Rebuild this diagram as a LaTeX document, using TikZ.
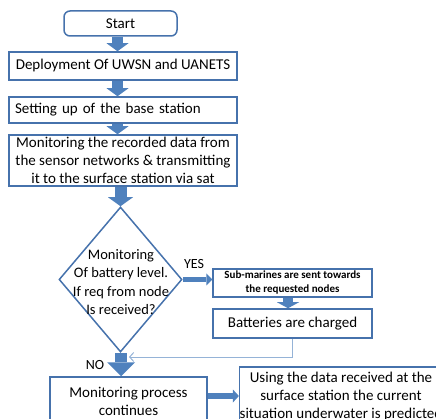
\documentclass[tikz,border=0pt]{standalone}
\usepackage{fontspec}
\setmainfont{Carlito}
\usetikzlibrary{shapes.geometric,arrows.meta}
\definecolor{boxblue}{RGB}{70,114,172}
\definecolor{arrblue}{RGB}{79,129,189}
\definecolor{lineblue}{RGB}{149,179,215}
\tikzset{
  flowbox/.style={draw=boxblue, line width=1.5pt, inner sep=2pt, align=center,
    font=\fontsize{15}{18}\selectfont},
  fatarrow/.style n args={3}{draw=arrblue, line width=#1,
    -{Triangle[width=#2,length=#3,line width=0pt,fill=arrblue]}},
}
\begin{document}
\begin{tikzpicture}[x=1pt,y=-1pt]
  \useasboundingbox (0,0) rectangle (436,419);
  \clip (0,0) rectangle (436,419);

  % left column
  \node[flowbox, rounded corners=6pt, minimum width=113pt, minimum height=25pt] (start) at (120.5,23.5) {Start};
  \node[flowbox, minimum width=228pt, minimum height=28pt] (deploy) at (123,66) {Deployment Of UWSN and UANETS};
  \node[flowbox, text width=216pt, inner xsep=6pt, align=left, minimum height=26pt] (setup) at (123,110) {Setting up of the base station};
  \node[flowbox, minimum width=228pt, minimum height=51pt, inner sep=0pt] (monit) at (123,160.5)
    {Monitoring the recorded data from\\the sensor networks \& transmitting\\it to the surface station via sat};
  \node[draw=boxblue, line width=1.5pt, diamond, minimum width=123pt, minimum height=145pt, inner sep=0pt] (dia) at (120.5,279.5) {};
  \node[align=center, font=\fontsize{14.5}{18.3}\selectfont] (diatext) at (121,282)
    {Monitoring\\Of battery level.\\If req from node\\Is received?};
  \node[flowbox, minimum width=157pt, minimum height=48pt] (proc) at (128.5,401)
    {Monitoring process\\continues};

  % right column
  \node[flowbox, minimum width=159pt, minimum height=28pt, inner sep=0pt,
    font=\fontsize{11}{14}\selectfont\bfseries] (sub) at (292.5,283)
    {Sub-marines are sent towards\\the requested nodes};
  \node[flowbox, minimum width=159pt, minimum height=29pt] (batt) at (292.5,323.5) {Batteries are charged};
  \node[flowbox, minimum width=200pt, minimum height=58pt, inner sep=0pt] (using) at (341,396)
    {Using the data received at the\\surface station the current\\situation underwater is predicted};

  \node[font=\fontsize{14}{16}\selectfont] (yes) at (194,264) {YES};
  \node[font=\fontsize{14}{16}\selectfont] (no) at (95,365) {NO};
  \coordinate (merge) at (129,357);

  % arrows
  \draw[fatarrow={11pt}{22pt}{8pt}] (start.south -| 117.5,0) -- (deploy.north -| 117.5,0);
  \draw[fatarrow={11pt}{22pt}{8pt}] (deploy.south -| 117.5,0) -- (setup.north -| 117.5,0);
  \draw[fatarrow={11pt}{22pt}{8pt}] (setup.south -| 117.5,0) -- (monit.north -| 117.5,0);
  \draw[fatarrow={12pt}{25pt}{9pt}] (monit.south -| dia.north) -- (dia.north);
  \draw[fatarrow={5pt}{12pt}{6pt}] (dia.east) -- (dia.east -| sub.west);
  \draw[fatarrow={10pt}{22pt}{6pt}] (sub.south -| 288,0) -- (batt.north -| 288,0);
  \draw[fatarrow={12pt}{28pt}{14pt}] (dia.south -| 121,0) -- (proc.north -| 121,0);
  \draw[fatarrow={6pt}{13pt}{6pt}] (proc.east |- 0,396) -- (using.west |- 0,396);
  \draw[lineblue, line width=1pt, -{Straight Barb[length=4pt,width=9pt]}] (batt.south) |- (merge);
\end{tikzpicture}
\end{document}
